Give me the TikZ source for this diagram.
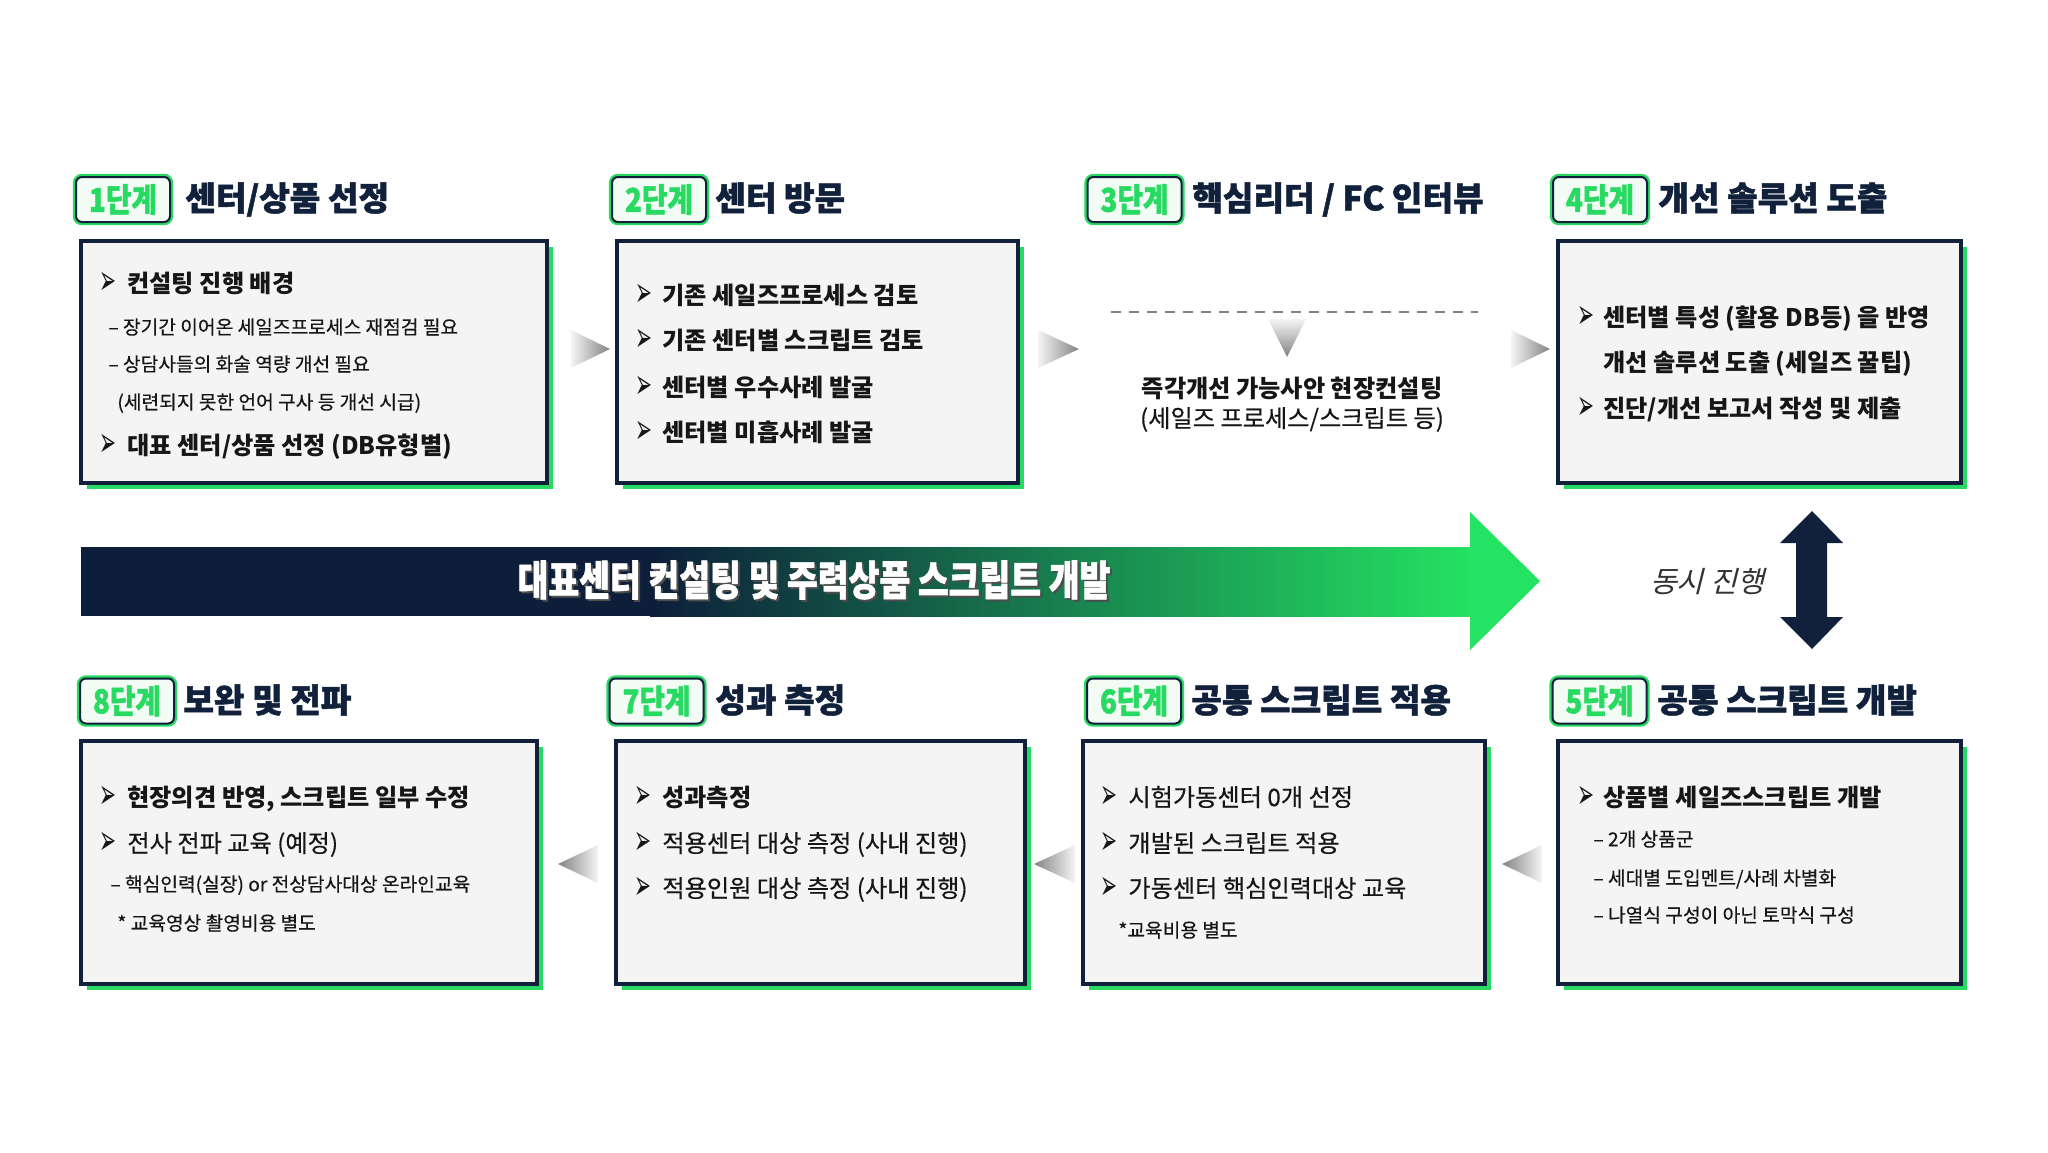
\documentclass[tikz,border=0pt]{standalone}
\usepackage{fontspec}
\newfontfamily\kr{Noto Sans CJK KR}[UprightFeatures={FakeBold=0.35}]
\newfontfamily\krk{Noto Sans CJK KR}[BoldFeatures={FakeBold=1.5}]
\newfontfamily\krsl{Noto Sans CJK KR}[FakeSlant=0.25]
\newfontfamily\dv{DejaVu Sans}
\definecolor{navy}{RGB}{17,33,60}
\definecolor{arrnavy}{RGB}{12,30,58}
\definecolor{grn}{RGB}{40,218,98}
\definecolor{grnb}{RGB}{36,226,98}
\definecolor{boxfill}{RGB}{244,244,245}
\definecolor{lblfill}{RGB}{242,252,245}
\definecolor{ink}{RGB}{22,22,22}
\definecolor{tri}{RGB}{130,130,132}
\definecolor{trilight}{RGB}{245,245,246}
\newcommand\drawpanel[5]{%
  \fill[grn] (#2+6,#3+6) rectangle (#4+6,#5+6);
  \draw[panel] (#2,#3) rectangle (#4,#5);
  \coordinate (#1) at (#2,#3);}
\newcommand\lbltext[1]{\scalebox{0.95}[1.12]{#1}}
\newcommand\bu{\scalebox{0.78}[1.6]{➢}}
\begin{document}
\begin{tikzpicture}[x=0.5pt,y=-0.5pt,
  panel/.style={fill=boxfill,draw=navy,line width=2pt},
  mtxt/.style={anchor=west,inner sep=0pt,text=ink,font=\kr\fontsize{12.1}{14}\selectfont,text height=10.3pt,text depth=1.2pt},
  mtxtb/.style={mtxt,font=\kr\bfseries\fontsize{12.1}{14}\selectfont},
  stxt/.style={anchor=west,inner sep=0pt,text=ink,font=\kr\fontsize{9.6}{11}\selectfont,text height=8.15pt,text depth=0.95pt},
  bul/.style={anchor=west,inner sep=0pt,text=ink,font=\dv\fontsize{13}{15}\selectfont},
  ttl/.style={anchor=west,inner sep=0pt,text=navy,font=\krk\bfseries\fontsize{16.6}{19}\selectfont,text height=14.1pt,text depth=1.65pt},
  lbl/.style={inner sep=0pt,minimum width=47pt,minimum height=22.5pt,rounded corners=3pt,fill=lblfill,draw=navy,line width=1pt,
    preaction={draw=grn,line width=3.2pt,rounded corners=3pt},text=grn,font=\krk\bfseries\fontsize{14.6}{16}\selectfont},
  gtri/.style={left color=trilight,right color=tri},
  gtril/.style={left color=tri,right color=trilight},
]
\useasboundingbox (0,0) rectangle (2048,1152);
\fill[white] (0,0) rectangle (2048,1152);

% ---------- panels ----------
\drawpanel{b1}{81}{241}{547}{483}
\drawpanel{b2}{617}{241}{1018}{483}
\drawpanel{b4}{1558}{241}{1961}{483}
\drawpanel{b5}{1558}{741}{1961}{984}
\drawpanel{b6}{1083}{741}{1485}{984}
\drawpanel{b7}{616}{741}{1025}{984}
\drawpanel{b8}{81}{741}{537}{984}

% ---------- stage labels and titles ----------
\node[lbl] (L1) at (123,199.5) {\lbltext{1단계}};
\node[ttl] (T1) at (185,198) {센터/상품 선정};
\node[lbl] (L2) at (659,199.5) {\lbltext{2단계}};
\node[ttl] (T2) at (715,198) {센터 방문};
\node[lbl] (L3) at (1134.5,199.5) {\lbltext{3단계}};
\node[ttl] (T3) at (1192,198) {핵심리더 / FC 인터뷰};
\node[lbl] (L4) at (1600,199.5) {\lbltext{4단계}};
\node[ttl] (T4) at (1658,198) {개선 솔루션 도출};
\node[lbl] (L5) at (1599.5,701) {\lbltext{5단계}};
\node[ttl] (T5) at (1657,700) {공통 스크립트 개발};
\node[lbl] (L6) at (1134,701) {\lbltext{6단계}};
\node[ttl] (T6) at (1191,700) {공통 스크립트 적용};
\node[lbl] (L7) at (656.5,701) {\lbltext{7단계}};
\node[ttl] (T7) at (715,700) {성과 측정};
\node[lbl] (L8) at (127,701) {\lbltext{8단계}};
\node[ttl] (T8) at (183,700) {보완 및 전파};

% ---------- box 1 ----------
\node[bul] (p1a) at (99,283) {\bu};
\node[mtxtb] (t1a) at (127,283) {컨설팅 진행 배경};
\node[stxt] (t1b) at (108,327) {– 장기간 이어온 세일즈프로세스 재점검 필요};
\node[stxt] (t1c) at (108,364) {– 상담사들의 화술 역량 개선 필요};
\node[stxt] (t1d) at (117,402) {(세련되지 못한 언어 구사 등 개선 시급)};
\node[bul] (p1e) at (99,445) {\bu};
\node[mtxtb] (t1e) at (127,445) {대표 센터/상품 선정 (DB유형별)};

% ---------- box 2 ----------
\node[bul] (p2a) at (635,295) {\bu};
\node[mtxtb] (t2a) at (662,295) {기존 세일즈프로세스 검토};
\node[bul] (p2b) at (635,340) {\bu};
\node[mtxtb] (t2b) at (662,340) {기존 센터별 스크립트 검토};
\node[bul] (p2c) at (635,387) {\bu};
\node[mtxtb] (t2c) at (662,387) {센터별 우수사례 발굴};
\node[bul] (p2d) at (635,432) {\bu};
\node[mtxtb] (t2d) at (662,432) {센터별 미흡사례 발굴};

% ---------- stage 3 ----------
\draw[tri,line width=1.2pt,dash pattern=on 5pt off 4pt] (1111,312) -- (1478,312);
\shade[top color=trilight,bottom color=tri] (1268,319) -- (1306,319) -- (1287,357) -- cycle;
\node[mtxt,anchor=center,font=\kr\bfseries\fontsize{12.1}{14}\selectfont] (t3a) at (1292,388) {즉각개선 가능사안 현장컨설팅};
\node[mtxt,anchor=center] (t3b) at (1292,418) {(세일즈 프로세스/스크립트 등)};

% ---------- box 4 ----------
\node[bul] (p4a) at (1577,317) {\bu};
\node[mtxtb] (t4a) at (1603,317) {센터별 특성 (활용 DB등) 을 반영};
\node[mtxtb] (t4b) at (1603,362) {개선 솔루션 도출 (세일즈 꿀팁)};
\node[bul] (p4c) at (1577,408) {\bu};
\node[mtxtb] (t4c) at (1603,408) {진단/개선 보고서 작성 및 제출};

% ---------- box 5 ----------
\node[bul] (p5a) at (1577,797) {\bu};
\node[mtxtb] (t5a) at (1603,797) {상품별 세일즈스크립트 개발};
\node[stxt] (t5b) at (1593,839) {– 2개 상품군};
\node[stxt] (t5c) at (1593,878) {– 세대별 도입멘트/사례 차별화};
\node[stxt] (t5d) at (1593,915) {– 나열식 구성이 아닌 토막식 구성};

% ---------- box 6 ----------
\node[bul] (p6a) at (1100,797) {\bu};
\node[mtxt] (t6a) at (1128,797) {시험가동센터 0개 선정};
\node[bul] (p6b) at (1100,843) {\bu};
\node[mtxt] (t6b) at (1128,843) {개발된 스크립트 적용};
\node[bul] (p6c) at (1100,888) {\bu};
\node[mtxt] (t6c) at (1128,888) {가동센터 핵심인력대상 교육};
\node[stxt] (t6d) at (1118,930) {*교육비용 별도};

% ---------- box 7 ----------
\node[bul] (p7a) at (634,797) {\bu};
\node[mtxtb] (t7a) at (662,797) {성과측정};
\node[bul] (p7b) at (634,843) {\bu};
\node[mtxt] (t7b) at (662,843) {적용센터 대상 측정 (사내 진행)};
\node[bul] (p7c) at (634,888) {\bu};
\node[mtxt] (t7c) at (662,888) {적용인원 대상 측정 (사내 진행)};

% ---------- box 8 ----------
\node[bul] (p8a) at (99,797) {\bu};
\node[mtxtb] (t8a) at (127,797) {현장의견 반영, 스크립트 일부 수정};
\node[bul] (p8b) at (99,843) {\bu};
\node[mtxt] (t8b) at (127,843) {전사 전파 교육 (예정)};
\node[stxt] (t8c) at (110,884) {– 핵심인력(실장) or 전상담사대상 온라인교육};
\node[stxt] (t8d) at (117,923) {* 교육영상 촬영비용 별도};

% ---------- gray step triangles ----------
\shade[gtri] (571,330) -- (610,349) -- (571,368) -- cycle;
\shade[gtri] (1038,330) -- (1079,349) -- (1038,368) -- cycle;
\shade[gtri] (1511,330) -- (1550,349) -- (1511,368) -- cycle;
\shade[gtril] (598,845) -- (558,864) -- (598,883) -- cycle;
\shade[gtril] (1075,845) -- (1034,864) -- (1075,883) -- cycle;
\shade[gtril] (1542,845) -- (1502,864) -- (1542,883) -- cycle;

% ---------- big arrow ----------
\fill[arrnavy] (81,547) rectangle (652,616);
\shade[left color=arrnavy,right color=grnb] (650,547) rectangle (1471,616);
\fill[grnb] (1470,512) -- (1540,581) -- (1470,650) -- cycle;
\node[inner sep=0pt,text=black!70,font=\krk\bfseries\fontsize{18}{20}\selectfont] (bigsh) at (816,582) {\scalebox{0.93}[1.15]{대표센터 컨설팅 및 주력상품 스크립트 개발}};
\node[inner sep=0pt,text=white,font=\krk\bfseries\fontsize{18}{20}\selectfont] (bigtxt) at (814,580) {\scalebox{0.93}[1.15]{대표센터 컨설팅 및 주력상품 스크립트 개발}};

% ---------- simultaneous arrow ----------
\fill[navy] (1812,511) -- (1843,543) -- (1827,543) -- (1827,617) -- (1843,617) -- (1812,649)
  -- (1780,617) -- (1796,617) -- (1796,543) -- (1780,543) -- cycle;
\node[inner sep=0pt,text=black!80,font=\krsl\fontsize{14.6}{16}\selectfont] (sim) at (1707,582) {동시 진행};
\end{tikzpicture}
\end{document}
